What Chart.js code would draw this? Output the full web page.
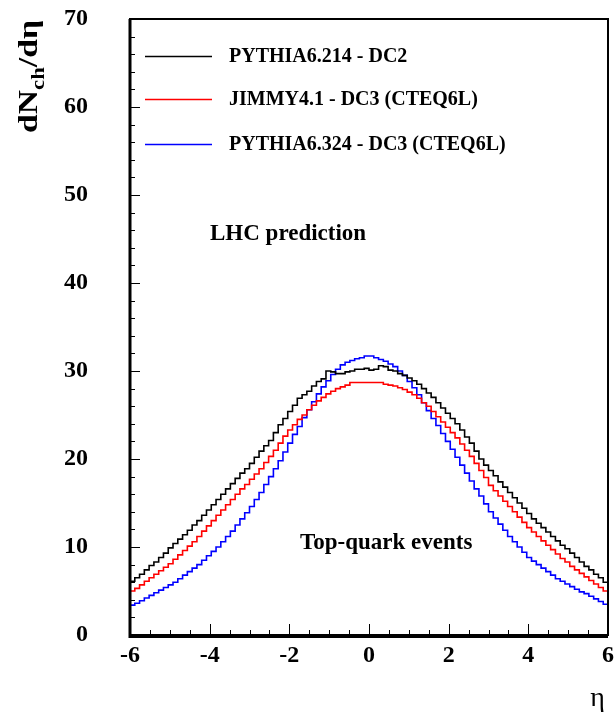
<!DOCTYPE html>
<html><head><meta charset="utf-8">
<script src="https://cdn.jsdelivr.net/npm/chart.js@4"></script>
<style>html,body{margin:0;padding:0;background:#fff}canvas{display:block}</style>
</head><body>
<canvas id="c" width="615" height="715"></canvas>
<script>
// ---- data ----
const etaMin = -6, etaMax = 6;           // histogram range (100 bins)
const seriesNames = ['PYTHIA6.214 - DC2', 'JIMMY4.1 - DC3 (CTEQ6L)', 'PYTHIA6.324 - DC3 (CTEQ6L)'];
const seriesColors = ['#000000', '#ff0000', '#0000ff'];
const pythia6214 = [
 6.1,6.5,6.9,7.4,7.9,8.3,8.8,9.3,9.9,10.4,10.9,11.4,11.9,12.5,13.0,13.6,14.2,14.8,15.4,16.0,
 16.6,17.2,17.8,18.4,18.9,19.5,20.2,20.9,21.5,22.1,23.0,23.9,24.6,25.4,26.1,26.9,27.3,27.7,28.3,28.8,
 29.1,30.0,29.9,29.7,29.7,29.9,30.0,30.2,30.2,30.3,30.1,30.2,30.6,30.5,30.1,30.0,29.7,29.5,29.2,28.9,
 28.5,28.0,27.5,27.0,26.4,25.8,25.2,24.6,24.0,23.3,22.5,21.8,20.9,20.0,19.3,18.7,18.1,17.4,16.8,16.2,
 15.6,15.0,14.4,13.8,13.2,12.7,12.2,11.7,11.2,10.7,10.2,9.8,9.3,8.8,8.3,7.8,7.4,6.9,6.5,6.0
];
const jimmy41 = [
 5.0,5.3,5.7,6.1,6.5,6.9,7.3,7.7,8.1,8.6,9.1,9.6,10.1,10.6,11.2,11.8,12.4,13.0,13.6,14.2,
 14.8,15.4,16.0,16.6,17.1,17.7,18.3,18.9,19.6,20.3,21.0,21.8,22.6,23.3,23.9,24.5,25.0,25.6,26.1,26.6,
 27.0,27.4,27.7,28.0,28.2,28.4,28.7,28.7,28.7,28.7,28.7,28.7,28.7,28.5,28.4,28.3,28.1,27.9,27.6,27.3,
 26.9,26.4,26.0,25.4,24.8,24.2,23.6,23.0,22.4,21.7,21.0,20.3,19.5,18.7,17.9,17.0,16.4,15.8,15.2,14.6,
 14.0,13.4,12.8,12.2,11.7,11.2,10.7,10.2,9.7,9.2,8.7,8.3,7.8,7.4,7.0,6.6,6.2,5.8,5.4,5.0
];
const pythia6324 = [
 3.4,3.6,3.9,4.2,4.5,4.8,5.1,5.4,5.7,6.0,6.4,6.8,7.2,7.6,8.0,8.5,9.0,9.5,10.0,10.6,
 11.2,11.8,12.5,13.2,13.9,14.6,15.4,16.2,17.1,18.0,18.9,19.8,20.8,21.8,22.8,23.7,24.7,25.6,26.5,27.4,
 28.2,28.9,29.6,30.2,30.7,31.0,31.2,31.4,31.5,31.7,31.7,31.5,31.3,31.1,30.8,30.5,30.0,29.5,28.8,28.1,
 27.3,26.4,25.5,24.6,23.8,22.9,22.0,21.1,20.2,19.3,18.4,17.5,16.6,15.8,14.9,14.0,13.3,12.6,11.9,11.2,
 10.6,10.0,9.4,8.8,8.4,8.0,7.6,7.2,6.8,6.4,6.1,5.8,5.5,5.2,4.9,4.7,4.4,4.1,3.8,3.5
];
const xTickLabels = ['-6','-4','-2','0','2','4','6'];
const yTickLabels = ['0','10','20','30','40','50','60','70'];
const textNotes = ['LHC prediction', 'Top-quark events'];

// ---- build step-histogram point lists (bin lower edges) ----
function stepData(vals){
  const w = (etaMax - etaMin) / vals.length;
  const pts = [{x: etaMin, y: 0}];
  vals.forEach((v, i) => pts.push({x: etaMin + i * w, y: v}));
  pts.push({x: etaMax, y: vals[vals.length - 1]});
  pts.push({x: etaMax, y: 0});
  return pts;
}
const allSeries = [pythia6214, jimmy41, pythia6324];

const SERIF = '"Liberation Serif", "DejaVu Serif", serif';

const decor = {
  id: 'decor',
  afterDatasetsDraw(chart){
    const {ctx, chartArea: a, scales: {x, y}} = chart;
    ctx.save();
    ctx.strokeStyle = '#000';
    ctx.lineWidth = 1;
    // x ticks (inward)
    for (let k = 0; k <= 24; k++){
      const v = etaMin + k * 0.5;
      const major = (k % 4 === 0);
      const px = Math.round(x.getPixelForValue(v)) + 0.5;
      ctx.beginPath(); ctx.moveTo(px, a.bottom); ctx.lineTo(px, a.bottom - (major ? 11 : 5)); ctx.stroke();
    }
    // y ticks (inward)
    for (let k = 0; k <= 35; k++){
      const v = k * 2;
      const major = (k % 5 === 0);
      const py = Math.round(y.getPixelForValue(v)) + 0.5;
      ctx.beginPath(); ctx.moveTo(a.left, py); ctx.lineTo(a.left + (major ? 10 : 5), py); ctx.stroke();
    }
    // frame
    ctx.lineWidth = 2;
    ctx.strokeRect(a.left, a.top, a.right - a.left, a.bottom - a.top);
    ctx.lineWidth = 3;
    ctx.beginPath(); ctx.moveTo(a.left, a.top); ctx.lineTo(a.left, a.bottom + 1.5); ctx.lineTo(a.right, a.bottom + 1.5); ctx.stroke();

    // legend
    ctx.font = 'bold 20px ' + SERIF;
    ctx.textBaseline = 'middle';
    ctx.textAlign = 'left';
    const legY = [56, 99, 144];
    seriesNames.forEach((n, i) => {
      ctx.strokeStyle = seriesColors[i];
      ctx.lineWidth = 1.6;
      ctx.beginPath(); ctx.moveTo(145, legY[i] + 0.5); ctx.lineTo(212, legY[i] + 0.5); ctx.stroke();
      ctx.fillStyle = '#000';
      ctx.fillText(n, 229, legY[i] + 1);
    });

    // annotations
    ctx.font = 'bold 23px ' + SERIF;
    ctx.fillStyle = '#000';
    ctx.fillText(textNotes[0], 210, 234);
    ctx.fillText(textNotes[1], 300, 543);

    // x axis title
    ctx.font = '28px ' + SERIF;
    ctx.textAlign = 'right';
    ctx.textBaseline = 'alphabetic';
    ctx.fillText('\u03B7', 605, 706);

    // y axis title: dN_ch/dη rotated
    ctx.save();
    ctx.translate(37, 133);
    ctx.rotate(-Math.PI / 2);
    const fMain = 'bold 28px ' + SERIF, fSub = 'bold 19px ' + SERIF;
    ctx.font = fMain; const w1 = ctx.measureText('dN').width; const w3 = ctx.measureText('/d\u03B7').width;
    ctx.font = fSub; const w2 = ctx.measureText('ch').width;
    const sx = 113 / (w1 + w2 + w3);
    ctx.scale(sx, 1);
    ctx.textAlign = 'left';
    ctx.textBaseline = 'alphabetic';
    ctx.font = fMain; ctx.fillText('dN', 0, 0);
    ctx.font = fSub; ctx.fillText('ch', w1, 7);
    ctx.font = fMain; ctx.fillText('/d\u03B7', w1 + w2, 0);
    ctx.restore();

    ctx.restore();
  }
};

new Chart(document.getElementById('c'), {
  type: 'line',
  data: {
    datasets: allSeries.map((vals, i) => ({
      label: seriesNames[i],
      data: stepData(vals),
      borderColor: seriesColors[i],
      borderWidth: 1.6,
      pointRadius: 0,
      fill: false,
      stepped: 'before',
      tension: 0
    }))
  },
  options: {
    responsive: false,
    animation: false,
    events: [],
    layout: {padding: {top: 19, right: 7, left: 0, bottom: 0}},
    plugins: {legend: {display: false}, tooltip: {enabled: false}},
    scales: {
      x: {
        type: 'linear', min: etaMin, max: etaMax,
        grid: {display: false, drawTicks: true, tickLength: 6},
        border: {display: false},
        ticks: {
          stepSize: 2, padding: 0, color: '#000', maxRotation: 0, autoSkip: false,
          font: {family: SERIF, weight: 'bold', size: 24},
          callback: (v, i) => xTickLabels[i]
        },
        afterFit: s => { s.height = 80; }
      },
      y: {
        type: 'linear', min: 0, max: 70,
        grid: {display: false, drawTicks: true, tickLength: 42},
        border: {display: false},
        ticks: {
          stepSize: 10, padding: 0, color: '#000',
          font: {family: SERIF, weight: 'bold', size: 24},
          callback: (v, i) => yTickLabels[i]
        },
        afterFit: s => { s.width = 130; }
      }
    }
  },
  plugins: [decor]
});
</script>
</body></html>
